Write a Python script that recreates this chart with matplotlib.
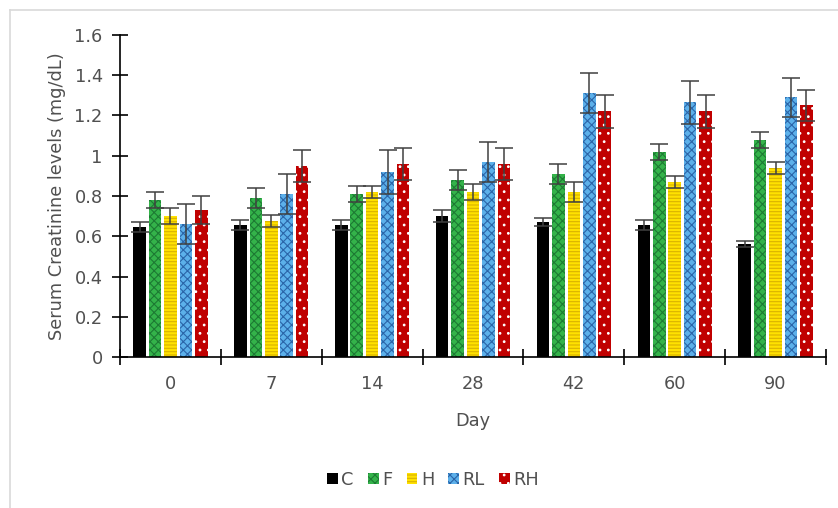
import matplotlib
matplotlib.use("Agg")
import matplotlib.pyplot as plt
import numpy as np
from matplotlib.lines import Line2D

days = ["0", "7", "14", "28", "42", "60", "90"]
groups = ["C", "F", "H", "RL", "RH"]

C_vals = [0.645, 0.655, 0.655, 0.70, 0.67, 0.655, 0.56]
F_vals = [0.78, 0.79, 0.81, 0.88, 0.91, 1.02, 1.08]
H_vals = [0.70, 0.675, 0.82, 0.82, 0.82, 0.87, 0.94]
RL_vals = [0.66, 0.81, 0.92, 0.97, 1.31, 1.265, 1.29]
RH_vals = [0.73, 0.95, 0.96, 0.96, 1.22, 1.22, 1.25]

C_err = [0.025, 0.025, 0.025, 0.03, 0.02, 0.025, 0.015]
F_err = [0.04, 0.05, 0.04, 0.05, 0.05, 0.04, 0.04]
H_err = [0.04, 0.03, 0.03, 0.04, 0.05, 0.03, 0.03]
RL_err = [0.10, 0.10, 0.11, 0.10, 0.10, 0.105, 0.095]
RH_err = [0.07, 0.08, 0.08, 0.08, 0.08, 0.08, 0.075]

values = [C_vals, F_vals, H_vals, RL_vals, RH_vals]
errors = [C_err, F_err, H_err, RL_err, RH_err]

styles = [
    dict(color="#000000", hatch=None, hcol="#000000"),
    dict(color="#34b34a", hatch="xxxx", hcol="#1d7a33"),
    dict(color="#ffe100", hatch="-----", hcol="#d9b200"),
    dict(color="#5cb0ea", hatch="xxxx", hcol="#2a64a8"),
    dict(color="#c00000", hatch="..", hcol="#ffffff"),
]

plt.rcParams['font.family'] = ['DejaVu Sans']
plt.rcParams['hatch.linewidth'] = 0.8

FS = 12.8
TXT = "#505050"

fig = plt.figure(figsize=(8.38, 5.08), dpi=100)
ax = fig.add_axes([120/838, 1-357/508, 706/838, 322/508])

x = np.arange(len(days))
pitch = 0.153
width = 0.124
for i, (g, vals, errs, st) in enumerate(zip(groups, values, errors, styles)):
    pos = x + (i - 2) * pitch
    ax.bar(pos, vals, width, color=st["color"], edgecolor=st["hcol"],
           linewidth=0, hatch=st["hatch"], label=g, zorder=2)
    ax.errorbar(pos, vals, yerr=errs, fmt="none", ecolor="#404040",
                elinewidth=1.1, capsize=6.5, capthick=1.1, zorder=3)

ax.set_xlim(-0.5, len(days) - 0.5)
ax.set_ylim(0, 1.6)
ax.set_yticks(np.arange(0, 1.61, 0.2))
ax.set_yticklabels(["0", "0.2", "0.4", "0.6", "0.8", "1", "1.2", "1.4", "1.6"])
ax.set_xticks(x)
ax.set_xticklabels(days)
ax.set_xticks(np.arange(-0.5, len(days), 1.0), minor=True)

for s in ["top", "right"]:
    ax.spines[s].set_visible(False)
for s in ["left", "bottom"]:
    ax.spines[s].set_linewidth(1.2)
    ax.spines[s].set_color("#000000")

ax.tick_params(axis="y", direction="inout", length=11, width=1.2, labelsize=FS,
               pad=7, colors="#000000", labelcolor=TXT)
ax.tick_params(axis="x", which="major", length=0, labelsize=FS, pad=13,
               labelcolor=TXT)
ax.tick_params(axis="x", which="minor", direction="inout", length=12, width=1.2)

ax.set_ylabel("Serum Creatinine levels (mg/dL)", fontsize=FS, color=TXT, labelpad=6)
ax.set_xlabel("Day", fontsize=FS, color=TXT, labelpad=14)

handles, labels = ax.get_legend_handles_labels()
fig.legend(handles, labels, loc="center", bbox_to_anchor=(433/838, 1-480/508),
           ncol=5, frameon=False, fontsize=FS, handlelength=0.6, handleheight=0.6,
           handletextpad=0.2, columnspacing=0.8, labelcolor=TXT)

# chart border
fig.add_artist(Line2D([10/838, 1], [1-10/508, 1-10/508], color="#d9d9d9", lw=1.2,
                      transform=fig.transFigure))
fig.add_artist(Line2D([10/838, 10/838], [0, 1-10/508], color="#d9d9d9", lw=1.2,
                      transform=fig.transFigure))

fig.savefig("out.png", dpi=100)
